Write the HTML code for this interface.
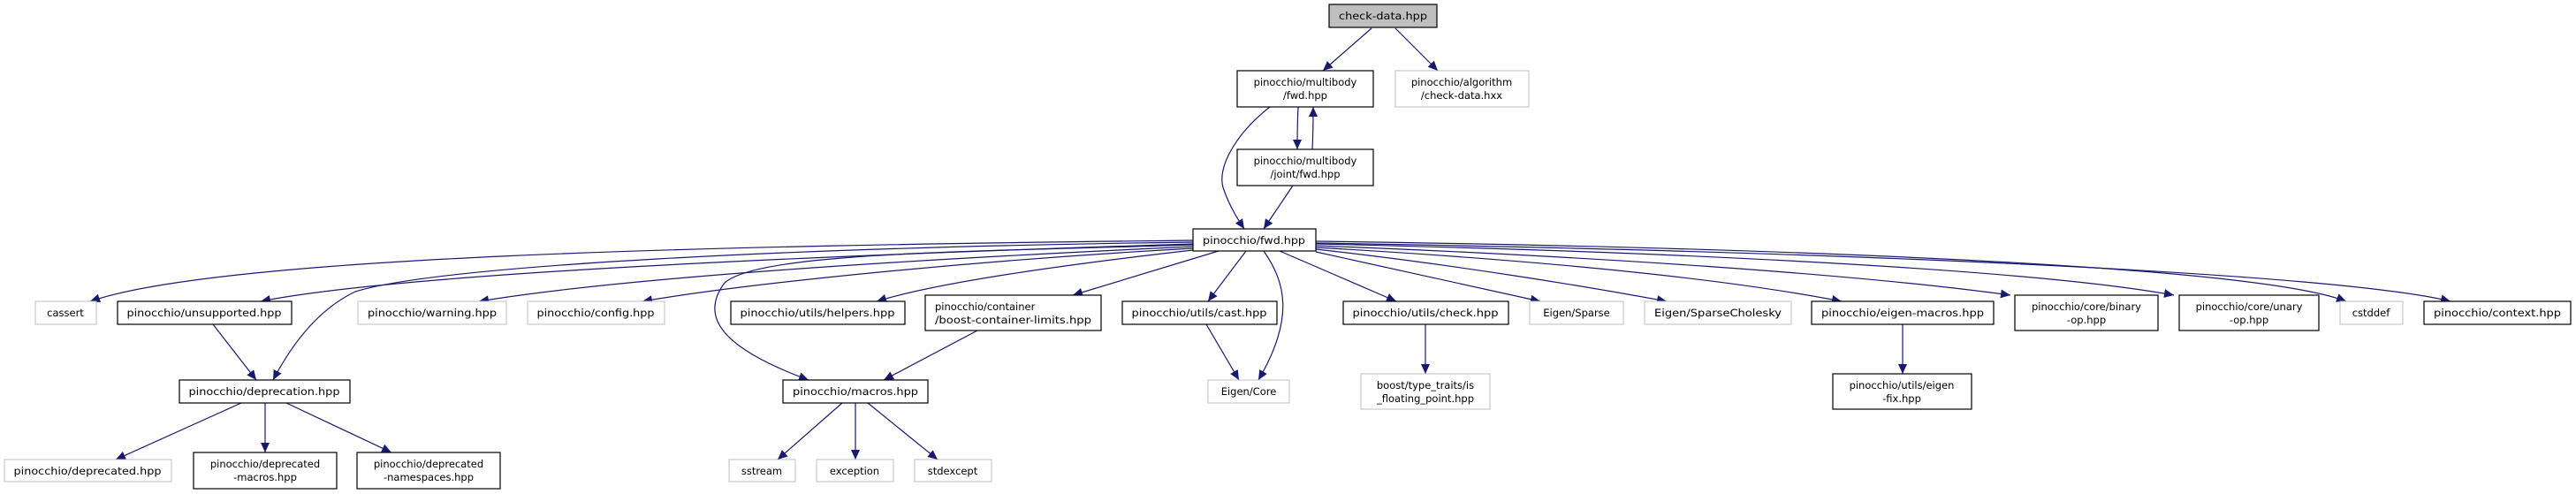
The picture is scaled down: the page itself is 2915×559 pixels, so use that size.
<!DOCTYPE html>
<html><head><meta charset="utf-8"><style>
html,body{margin:0;padding:0;background:#fff;}
svg{display:block;}
text{font-family:"DejaVu Sans","Liberation Sans",sans-serif;font-size:11.5px;fill:#000;text-anchor:middle;}
.e{fill:none;stroke:#191970;stroke-width:1.2;}
.b{fill:#fff;stroke:#000;stroke-width:1.2;}
.g{fill:#fff;stroke:#bfbfbf;stroke-width:1;}
</style></head><body>
<svg width="2915" height="559" viewBox="0 0 2915 559" xmlns="http://www.w3.org/2000/svg">
<defs>
<marker id="a" markerUnits="userSpaceOnUse" markerWidth="12" markerHeight="10" refX="11" refY="5" orient="auto">
<path d="M0,0 L11,5 L0,10 Z" fill="#191970"/>
</marker>
</defs>
<g marker-end="url(#a)">
<path class="e" d="M1552,32 L1497,80"/>
<path class="e" d="M1579,32 L1627,80"/>
<path class="e" d="M1469,121 C1468,140 1468,150 1468,169"/>
<path class="e" d="M1485,169 C1486,150 1486,140 1486,121"/>
<path class="e" d="M1437,121 C1400,150 1375,190 1385,215 C1392,235 1402,250 1408,259"/>
<path class="e" d="M1463,210 L1430,259"/>
<!-- fans left -->
<path class="e" d="M1350,272 C800,278 250,290 102,341"/>
<path class="e" d="M1350,276 C900,290 450,310 295,341"/>
<path class="e" d="M1350,274 C900,280 500,300 402,330 C360,350 330,390 309,430"/>
<path class="e" d="M1350,279 C1000,295 700,315 542,341"/>
<path class="e" d="M1350,281 C1100,295 850,320 727,341"/>
<path class="e" d="M1350,277 C1100,285 860,285 820,320 C790,360 820,395 915,430"/>
<path class="e" d="M1350,283 C1200,300 1060,320 992,341"/>
<path class="e" d="M1379,284 L1214,334"/>
<path class="e" d="M1410,284 L1367,341"/>
<path class="e" d="M1430,284 C1455,320 1465,360 1424,430"/>
<!-- fans right -->
<path class="e" d="M1448,284 L1580,341"/>
<path class="e" d="M1489,285 L1743,341"/>
<path class="e" d="M1489,282 C1650,300 1800,325 1886,341"/>
<path class="e" d="M1489,280 C1750,295 1950,315 2084,341"/>
<path class="e" d="M1489,278 C1800,290 2100,310 2275,334"/>
<path class="e" d="M1489,276 C1900,285 2300,305 2460,334"/>
<path class="e" d="M1489,273 C2000,280 2550,300 2655,341"/>
<path class="e" d="M1489,275 C2100,285 2650,310 2773,341"/>
<!-- lower -->
<path class="e" d="M1365,367 L1402,430"/>
<path class="e" d="M1613,367 L1613,423"/>
<path class="e" d="M2153,367 L2153,423"/>
<path class="e" d="M241,367 L290,430"/>
<path class="e" d="M1106,374 L1000,430"/>
<path class="e" d="M273,456 L131,520"/>
<path class="e" d="M300,456 L300,512"/>
<path class="e" d="M324,456 L443,512"/>
<path class="e" d="M953,456 L880,520"/>
<path class="e" d="M968,456 L968,520"/>
<path class="e" d="M982,456 L1061,520"/>
</g>
<!-- nodes -->
<rect x="1504" y="5" width="122" height="26" fill="#bfbfbf" stroke="#000" stroke-width="1.2"/>
<text x="1565" y="22" textLength="100" lengthAdjust="spacingAndGlyphs">check-data.hpp</text>

<rect class="b" x="1400" y="80" width="154" height="41"/>
<text x="1477" y="97">pinocchio/multibody</text><text x="1477" y="112">/fwd.hpp</text>
<rect class="g" x="1579" y="80" width="151" height="41"/>
<text x="1654" y="97">pinocchio/algorithm</text><text x="1654" y="112">/check-data.hxx</text>
<rect class="b" x="1400" y="169" width="154" height="41"/>
<text x="1477" y="186">pinocchio/multibody</text><text x="1477" y="201">/joint/fwd.hpp</text>
<rect class="b" x="1350" y="259" width="139" height="25"/>
<text x="1419" y="276" textLength="116" lengthAdjust="spacingAndGlyphs">pinocchio/fwd.hpp</text>

<rect class="g" x="40" y="341" width="69" height="26"/><text x="74" y="358">cassert</text>
<rect class="b" x="133" y="341" width="197" height="26"/><text x="231" y="358" textLength="175" lengthAdjust="spacingAndGlyphs">pinocchio/unsupported.hpp</text>
<rect class="g" x="405" y="341" width="168" height="26"/><text x="489" y="358" textLength="146" lengthAdjust="spacingAndGlyphs">pinocchio/warning.hpp</text>
<rect class="g" x="597" y="341" width="155" height="26"/><text x="674" y="358" textLength="133" lengthAdjust="spacingAndGlyphs">pinocchio/config.hpp</text>
<rect class="b" x="827" y="341" width="197" height="26"/><text x="925" y="358" textLength="175" lengthAdjust="spacingAndGlyphs">pinocchio/utils/helpers.hpp</text>
<rect class="b" x="1047" y="334" width="199" height="40"/>
<text x="1058" y="351" style="text-anchor:start">pinocchio/container</text><text x="1058" y="366" style="text-anchor:start" textLength="177" lengthAdjust="spacingAndGlyphs">/boost-container-limits.hpp</text>
<rect class="b" x="1270" y="341" width="175" height="26"/><text x="1357" y="358" textLength="153" lengthAdjust="spacingAndGlyphs">pinocchio/utils/cast.hpp</text>
<rect class="b" x="1520" y="341" width="187" height="26"/><text x="1613" y="358" textLength="165" lengthAdjust="spacingAndGlyphs">pinocchio/utils/check.hpp</text>
<rect class="g" x="1731" y="341" width="106" height="26"/><text x="1784" y="358">Eigen/Sparse</text>
<rect class="g" x="1861" y="341" width="166" height="26"/><text x="1944" y="358" textLength="144" lengthAdjust="spacingAndGlyphs">Eigen/SparseCholesky</text>
<rect class="b" x="2050" y="341" width="206" height="26"/><text x="2153" y="358" textLength="184" lengthAdjust="spacingAndGlyphs">pinocchio/eigen-macros.hpp</text>
<rect class="b" x="2280" y="334" width="162" height="40"/>
<text x="2361" y="351">pinocchio/core/binary</text><text x="2361" y="366">-op.hpp</text>
<rect class="b" x="2466" y="334" width="158" height="40"/>
<text x="2545" y="351">pinocchio/core/unary</text><text x="2545" y="366">-op.hpp</text>
<rect class="g" x="2648" y="341" width="71" height="26"/><text x="2683" y="358">cstddef</text>
<rect class="b" x="2743" y="341" width="166" height="26"/><text x="2826" y="358" textLength="144" lengthAdjust="spacingAndGlyphs">pinocchio/context.hpp</text>

<rect class="b" x="203" y="430" width="193" height="26"/><text x="299" y="447" textLength="171" lengthAdjust="spacingAndGlyphs">pinocchio/deprecation.hpp</text>
<rect class="b" x="886" y="430" width="164" height="26"/><text x="968" y="447" textLength="142" lengthAdjust="spacingAndGlyphs">pinocchio/macros.hpp</text>
<rect class="g" x="1367" y="430" width="92" height="26"/><text x="1413" y="447">Eigen/Core</text>
<rect class="g" x="1540" y="423" width="146" height="40"/>
<text x="1613" y="440">boost/type_traits/is</text><text x="1613" y="455">_floating_point.hpp</text>
<rect class="b" x="2074" y="423" width="157" height="40"/>
<text x="2152" y="440">pinocchio/utils/eigen</text><text x="2152" y="455">-fix.hpp</text>

<rect class="g" x="5" y="520" width="189" height="25"/><text x="99" y="537" textLength="167" lengthAdjust="spacingAndGlyphs">pinocchio/deprecated.hpp</text>
<rect class="b" x="219" y="512" width="162" height="41"/>
<text x="300" y="529">pinocchio/deprecated</text><text x="300" y="544">-macros.hpp</text>
<rect class="b" x="404" y="512" width="162" height="41"/>
<text x="485" y="529">pinocchio/deprecated</text><text x="485" y="544">-namespaces.hpp</text>
<rect class="g" x="825" y="520" width="75" height="25"/><text x="862" y="537">sstream</text>
<rect class="g" x="924" y="520" width="87" height="25"/><text x="967" y="537">exception</text>
<rect class="g" x="1035" y="520" width="87" height="25"/><text x="1078" y="537">stdexcept</text>
</svg>
</body></html>
